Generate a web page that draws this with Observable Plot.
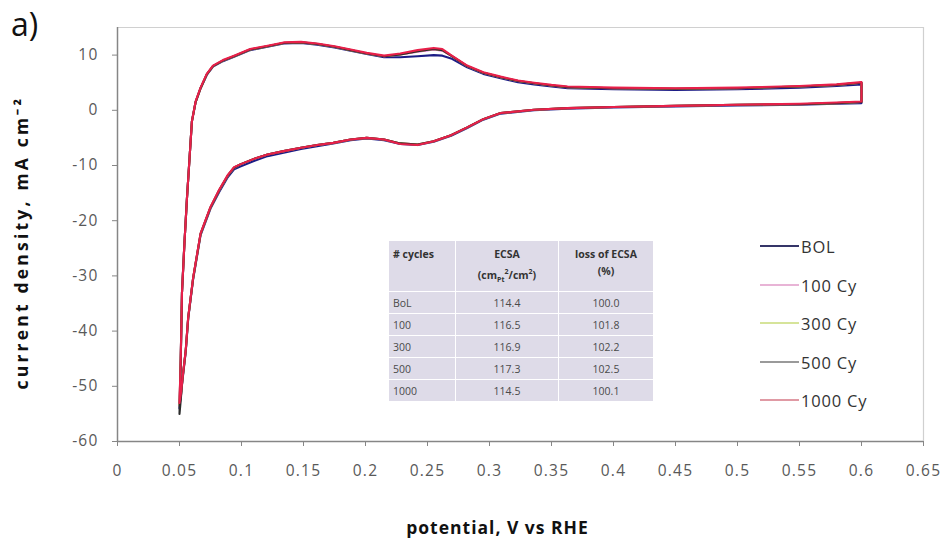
<!DOCTYPE html>
<html>
<head>
<meta charset="utf-8">
<script src="https://cdn.jsdelivr.net/npm/d3@7"></script>
<script src="https://cdn.jsdelivr.net/npm/@observablehq/plot@0.6"></script>
<style>
  body { margin: 0; background: #fff; font-family: "Open Sans", sans-serif; }
  #wrap { position: relative; width: 944px; height: 542px; }
  #tag { position: absolute; left: 11px; top: 4px; font-size: 32px; color: #111; line-height: 40px; }
  #legend { position: absolute; left: 760px; top: 236px; }
  .lg { position: absolute; left: 0; height: 20px; display: flex; align-items: center; white-space: nowrap; font-size: 16.5px; letter-spacing: 0.8px; color: #333; }
  .lg span.sw { display: inline-block; width: 39px; height: 2px; margin-right: 2px; }
  #tbl { position: absolute; left: 388px; top: 240px; border-collapse: collapse; font-size: 10.5px; color: #4a4a4a; }
  #tbl td { background: #dedbe8; border: 1.5px solid #fff; padding: 0 4px; height: 21px; }
  #tbl tr.h td { font-weight: bold; color: #333; vertical-align: top; padding-top: 5px; height: 45px; text-align: center; line-height: 17px; }
  #tbl td.c { text-align: center; }
  #chart g[aria-label="x-axis tick label"] text,
  #chart g[aria-label="y-axis tick label"] text { letter-spacing: 1.2px; }
</style>
</head>
<body>
<div id="wrap">
  <div id="chart"></div>
  <div id="tag">a)</div>
  <div id="legend"></div>
  <table id="tbl"></table>
</div>
<script>
// ---------------- data ----------------
const seriesNames = ["BOL", "100 Cy", "300 Cy", "500 Cy", "1000 Cy"];
const seriesColors = ["#1c1c86", "#e050d8", "#c8c838", "#2b2b2b", "#e8204a"];
const legendColors = ["#353568", "#e8b4d6", "#d6e49a", "#9a9a9a", "#e09aa4"];

// potential (V vs RHE): anodic sweep then cathodic sweep
const potential = [
  0.050, 0.051, 0.052, 0.054, 0.056, 0.058, 0.060, 0.063, 0.067, 0.072,
  0.077, 0.085, 0.094, 0.107, 0.121, 0.134, 0.148, 0.161, 0.175, 0.188,
  0.201, 0.215, 0.228, 0.242, 0.255, 0.262, 0.269, 0.282, 0.295, 0.309,
  0.323, 0.336, 0.350, 0.363, 0.400, 0.450, 0.500, 0.550, 0.580, 0.600,
  0.600, 0.580, 0.550, 0.500, 0.450, 0.400, 0.363, 0.336, 0.309, 0.295,
  0.282, 0.269, 0.255, 0.242, 0.228, 0.215, 0.201, 0.188, 0.174, 0.161,
  0.148, 0.134, 0.121, 0.110, 0.099, 0.094, 0.089, 0.082, 0.075, 0.067,
  0.061, 0.057, 0.055, 0.053, 0.052, 0.051, 0.050
];

// current density (mA cm-2)
const currentBOL = [
  -54.0, -45.0, -33.0, -24.0, -16.0, -9.0, -2.0, 1.5, 4.0, 6.4,
  7.9, 8.9, 9.7, 10.9, 11.5, 12.1, 12.2, 11.9, 11.4, 10.8,
  10.2, 9.6, 9.6, 9.8, 10.0, 9.9, 9.4, 7.8, 6.6, 5.8,
  5.1, 4.7, 4.3, 4.0, 3.8, 3.7, 3.8, 4.1, 4.4, 4.7,
  1.3, 1.2, 1.0, 0.9, 0.7, 0.5, 0.3, 0.0, -0.6, -1.7,
  -3.2, -4.6, -5.7, -6.3, -6.1, -5.4, -5.1, -5.4, -6.0, -6.5,
  -7.0, -7.7, -8.3, -9.2, -10.2, -10.7, -12.1, -14.8, -17.8, -22.6,
  -30.6, -37.8, -43.8, -47.7, -49.8, -52.0, -53.5
];
const current100 = [
  -53.5, -45.0, -33.0, -24.0, -16.0, -9.0, -2.0, 1.5, 4.0, 6.5,
  8.0, 9.0, 9.8, 11.0, 11.6, 12.2, 12.3, 12.0, 11.5, 10.9,
  10.3, 9.8, 10.1, 10.6, 11.0, 10.8, 9.9, 8.0, 6.8, 6.0,
  5.3, 4.9, 4.5, 4.2, 4.0, 3.9, 4.0, 4.3, 4.6, 5.0,
  1.5, 1.3, 1.1, 1.0, 0.8, 0.6, 0.4, 0.1, -0.5, -1.6,
  -3.1, -4.5, -5.6, -6.2, -6.0, -5.3, -5.0, -5.3, -5.9, -6.3,
  -6.8, -7.4, -8.0, -8.8, -9.8, -10.4, -11.8, -14.5, -17.6, -22.4,
  -30.4, -37.6, -43.6, -47.5, -49.6, -52.0, -53.0
];
const current300 = [
  -53.5, -45.0, -33.0, -24.0, -16.0, -9.0, -2.0, 1.5, 4.0, 6.5,
  8.0, 9.0, 9.8, 11.0, 11.6, 12.2, 12.3, 12.0, 11.5, 10.9,
  10.3, 9.8, 10.1, 10.7, 11.1, 10.9, 9.9, 8.0, 6.8, 6.0,
  5.3, 4.9, 4.5, 4.2, 4.0, 3.9, 4.0, 4.3, 4.6, 5.0,
  1.5, 1.3, 1.1, 1.0, 0.8, 0.6, 0.4, 0.1, -0.5, -1.6,
  -3.1, -4.5, -5.6, -6.2, -6.0, -5.3, -5.0, -5.3, -5.9, -6.3,
  -6.8, -7.4, -8.0, -8.8, -9.8, -10.4, -11.8, -14.5, -17.6, -22.4,
  -30.4, -37.6, -43.6, -47.5, -49.6, -52.0, -53.0
];
const current500 = [
  -55.0, -45.5, -33.0, -24.0, -16.0, -9.0, -2.0, 1.5, 4.0, 6.5,
  8.0, 9.0, 9.8, 11.0, 11.6, 12.2, 12.3, 12.0, 11.5, 10.9,
  10.3, 9.8, 10.1, 10.7, 11.1, 10.9, 9.9, 8.0, 6.8, 6.0,
  5.3, 4.9, 4.5, 4.2, 4.0, 3.9, 4.0, 4.3, 4.6, 5.0,
  1.5, 1.3, 1.1, 1.0, 0.8, 0.6, 0.4, 0.1, -0.5, -1.6,
  -3.1, -4.5, -5.6, -6.2, -6.0, -5.3, -5.0, -5.3, -5.9, -6.3,
  -6.8, -7.4, -8.0, -8.8, -9.8, -10.4, -11.8, -14.5, -17.6, -22.4,
  -30.4, -37.6, -43.6, -47.5, -49.6, -52.5, -55.0
];
const current1000 = [
  -53.0, -45.0, -33.0, -24.0, -16.0, -9.0, -2.0, 1.6, 4.1, 6.6,
  8.1, 9.1, 9.9, 11.1, 11.7, 12.3, 12.4, 12.1, 11.6, 11.0,
  10.4, 9.9, 10.3, 10.9, 11.3, 11.1, 10.0, 8.1, 6.9, 6.1,
  5.4, 5.0, 4.6, 4.3, 4.1, 4.0, 4.1, 4.4, 4.7, 5.1,
  1.6, 1.4, 1.2, 1.0, 0.8, 0.6, 0.4, 0.1, -0.5, -1.6,
  -3.1, -4.5, -5.6, -6.3, -6.1, -5.3, -5.0, -5.3, -5.9, -6.3,
  -6.8, -7.4, -8.0, -8.8, -9.8, -10.3, -11.7, -14.4, -17.5, -22.3,
  -30.3, -37.5, -43.5, -47.4, -49.5, -51.5, -53.0
];
const currents = [currentBOL, current100, current300, current500, current1000];

const xTicks = [0, 0.05, 0.1, 0.15, 0.2, 0.25, 0.3, 0.35, 0.4, 0.45, 0.5, 0.55, 0.6, 0.65];
const yTicks = [-60, -50, -40, -30, -20, -10, 0, 10];
const xTitle = "potential, V vs RHE";
const yTitle = "current density, mA cm\u207B\u00B2";

// ECSA table
const tableCycles = ["BoL", "100", "300", "500", "1000"];
const tableECSA = ["114.4", "116.5", "116.9", "117.3", "114.5"];
const tableLoss = ["100.0", "101.8", "102.2", "102.5", "100.1"];

// ---------------- build ----------------
const rows = [];
seriesNames.forEach((name, i) => {
  currents[i].forEach((c, k) => rows.push({series: name, k, v: potential[k], j: c}));
});

const fmt = d => String(+d.toFixed(2));

const chart = Plot.plot({
  width: 944,
  height: 542,
  marginLeft: 117,
  marginRight: 21,
  marginTop: 27,
  marginBottom: 101,
  style: {fontFamily: "Open Sans, sans-serif", fontSize: "15px", color: "#595959", background: "#fff"},
  x: {domain: [0, 0.65]},
  y: {domain: [-60, 15]},
  color: {domain: seriesNames, range: seriesColors},
  marks: [
    Plot.ruleY([15], {stroke: "#d0d0d0", strokeWidth: 1}),
    Plot.ruleX([0.65], {stroke: "#d0d0d0", strokeWidth: 1.2}),
    Plot.line(rows, {x: "v", y: "j", z: "series", stroke: "series", strokeWidth: 2.1, curve: "linear"}),
    Plot.ruleY([-60], {stroke: "#868686", strokeWidth: 1.5}),
    Plot.ruleX([0], {stroke: "#868686", strokeWidth: 1.5}),
    Plot.axisX({ticks: xTicks, tickFormat: fmt, tickSize: 5, tickPadding: 18, label: null, stroke: "#868686", fill: "#595959", fontSize: 15.5}),
    Plot.axisY({ticks: yTicks, tickFormat: fmt, tickSize: 5, tickPadding: 14, label: null, stroke: "#868686", fill: "#595959", fontSize: 15.5}),
    Plot.text([xTitle], {frameAnchor: "bottom", textAnchor: "middle", dy: 92, dx: -23, fontWeight: "bold", fontSize: 17.5, fill: "#111"}),
    Plot.text([yTitle], {frameAnchor: "left", textAnchor: "middle", lineAnchor: "middle", rotate: -90, dx: -95, dy: 8, fontWeight: "bold", fontSize: 17.5, fill: "#111"})
  ]
});
document.getElementById("chart").appendChild(chart);
d3.select(chart).selectAll("text").each(function() {
  const t = this.textContent;
  if (t === xTitle) this.style.letterSpacing = "1px";
  if (t === yTitle) this.style.letterSpacing = "3.2px";
});

// legend
const lg = document.getElementById("legend");
const legendTops = [0, 39, 77, 116, 154];
seriesNames.forEach((name, i) => {
  const d = document.createElement("div");
  d.className = "lg";
  d.style.top = legendTops[i] + "px";
  d.innerHTML = `<span class="sw" style="background:${legendColors[i]}"></span>${name}`;
  lg.appendChild(d);
});

// table
const tbl = document.getElementById("tbl");
tbl.innerHTML =
  `<tr class="h"><td style="width:58px;text-align:left">#&nbsp;cycles</td>` +
  `<td style="width:94px">ECSA<br>(cm<sub style="font-size:7px">Pt</sub><sup style="font-size:7px">2</sup>/cm<sup style="font-size:7px">2</sup>)</td>` +
  `<td style="width:86px">loss of ECSA<br>(%)</td></tr>` +
  tableCycles.map((c, i) => `<tr><td>${c}</td><td class="c">${tableECSA[i]}</td><td class="c">${tableLoss[i]}</td></tr>`).join("");
</script>
</body>
</html>
